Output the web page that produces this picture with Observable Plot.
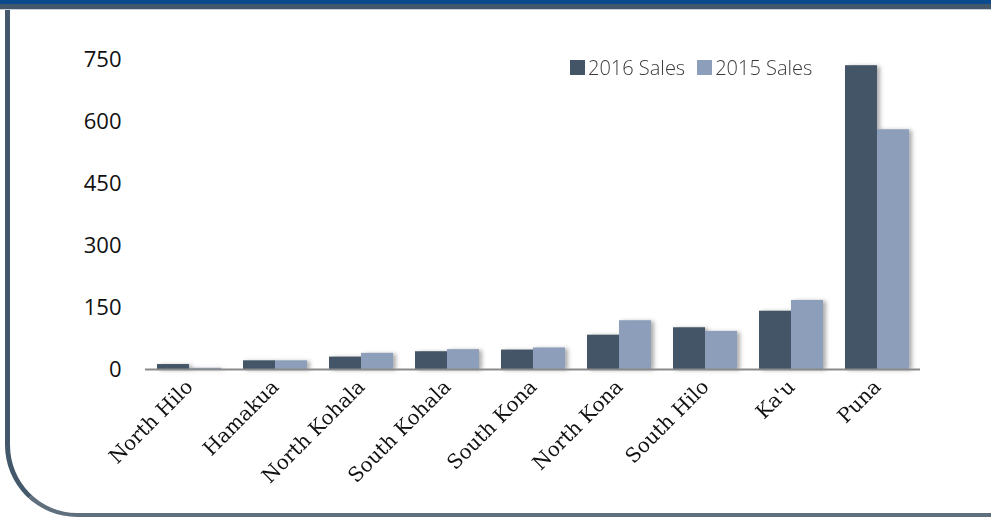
<!DOCTYPE html>
<html>
<head>
<meta charset="utf-8">
<script src="https://cdn.jsdelivr.net/npm/d3@7"></script>
<script src="https://cdn.jsdelivr.net/npm/@observablehq/plot@0.6"></script>
<style>
  html, body { margin: 0; padding: 0; background: #fff; }
  #wrap { position: relative; width: 991px; height: 520px; overflow: hidden; background: #fff; }
  #topblue { position: absolute; left: 0; top: 0; width: 991px; height: 4px; background: #0b4a8c; }
  #topslate { position: absolute; left: 0; top: 4px; width: 991px; height: 5px; background: #44586b; }
  #topline { position: absolute; left: 0; top: 9px; width: 991px; height: 1px; background: #c9d0d6; }
  #frame { position: absolute; left: 5px; top: 0; width: 1100px; height: 513px;
           border-left: 5px solid #44586b; border-bottom: 4px solid #5f6f7d;
           border-bottom-left-radius: 72px; box-sizing: content-box; }
  #chart { position: absolute; left: 0; top: 0; }
  #legend { position: absolute; left: 570px; top: 54px; font-family: "Open Sans", sans-serif;
            font-size: 20px; color: #3a3a3a; font-weight: 300; display: flex; align-items: center; white-space: nowrap; }
  .sw { display: inline-block; width: 15px; height: 15px; margin-right: 3px; }
  .item { display: flex; align-items: center; margin-right: 12px; }
</style>
</head>
<body>
<div id="wrap">
  <div id="frame"></div>
  <div id="topblue"></div>
  <div id="topslate"></div>
  <div id="topline"></div>
  <div id="chart"></div>
  <div id="legend"></div>
</div>
<script>
const districts = ["North Hilo","Hamakua","North Kohala","South Kohala","South Kona","North Kona","South Hilo","Ka'u","Puna"];
const sales2016 = [12, 21, 30, 43, 47, 83, 101, 141, 735];
const sales2015 = [3, 21, 39, 48, 52, 118, 92, 167, 580];
const seriesNames = ["2016 Sales", "2015 Sales"];
const seriesColors = ["#435566", "#8d9eba"];
const yTicks = [0, 150, 300, 450, 600, 750];

const d16 = districts.map((d, i) => ({district: d, value: sales2016[i]}));
const d15 = districts.map((d, i) => ({district: d, value: sales2015[i]}));

const half = 32;

const chart = Plot.plot({
  width: 991,
  height: 520,
  marginLeft: 145,
  marginRight: 71,
  marginTop: 59,
  marginBottom: 151,
  style: {background: "transparent", overflow: "visible"},
  x: {domain: districts, paddingInner: 0.26, paddingOuter: 0.13, label: null},
  y: {domain: [0, 750], label: null},
  marks: [
    Plot.barY(d16, {x: "district", y: "value", fill: "#666", insetRight: half, dx: 3, dy: 1, opacity: 0.55, className: "shadow"}),
    Plot.barY(d15, {x: "district", y: "value", fill: "#666", insetLeft: half, dx: 3, dy: 1, opacity: 0.55, className: "shadow"}),
    Plot.barY(d16, {x: "district", y: "value", fill: seriesColors[0], insetRight: half}),
    Plot.barY(d15, {x: "district", y: "value", fill: seriesColors[1], insetLeft: half}),
    Plot.ruleY([0], {stroke: "#8a8a8a", strokeWidth: 2}),
    Plot.axisY({ticks: yTicks, tickSize: 0, tickPadding: 24, fontSize: 22, fontFamily: "Open Sans, sans-serif", fill: "#111", tickFormat: d => String(d)}),
    Plot.axisX({tickSize: 0, tickPadding: 14, tickRotate: -45, fontSize: 20, fontFamily: "'DejaVu Serif', 'Liberation Serif', serif", fill: "#111", stroke: "#111", strokeWidth: 0.4, className: "xlab"})
  ]
});

// soft blur for drop shadows
const svg = chart;
const ns = "http://www.w3.org/2000/svg";
const defs = document.createElementNS(ns, "defs");
const filt = document.createElementNS(ns, "filter");
filt.setAttribute("id", "blurShadow");
filt.setAttribute("x", "-20%"); filt.setAttribute("y", "-20%");
filt.setAttribute("width", "140%"); filt.setAttribute("height", "140%");
const blur = document.createElementNS(ns, "feGaussianBlur");
blur.setAttribute("stdDeviation", "2");
filt.appendChild(blur);
defs.appendChild(filt);
svg.insertBefore(defs, svg.firstChild);
svg.querySelectorAll("g.shadow").forEach(g => g.setAttribute("filter", "url(#blurShadow)"));

document.getElementById("chart").appendChild(chart);

const legend = document.getElementById("legend");
seriesNames.forEach((name, i) => {
  const item = document.createElement("span");
  item.className = "item";
  const sw = document.createElement("span");
  sw.className = "sw";
  sw.style.background = seriesColors[i];
  const t = document.createElement("span");
  t.textContent = name;
  item.appendChild(sw);
  item.appendChild(t);
  legend.appendChild(item);
});
</script>
</body>
</html>
